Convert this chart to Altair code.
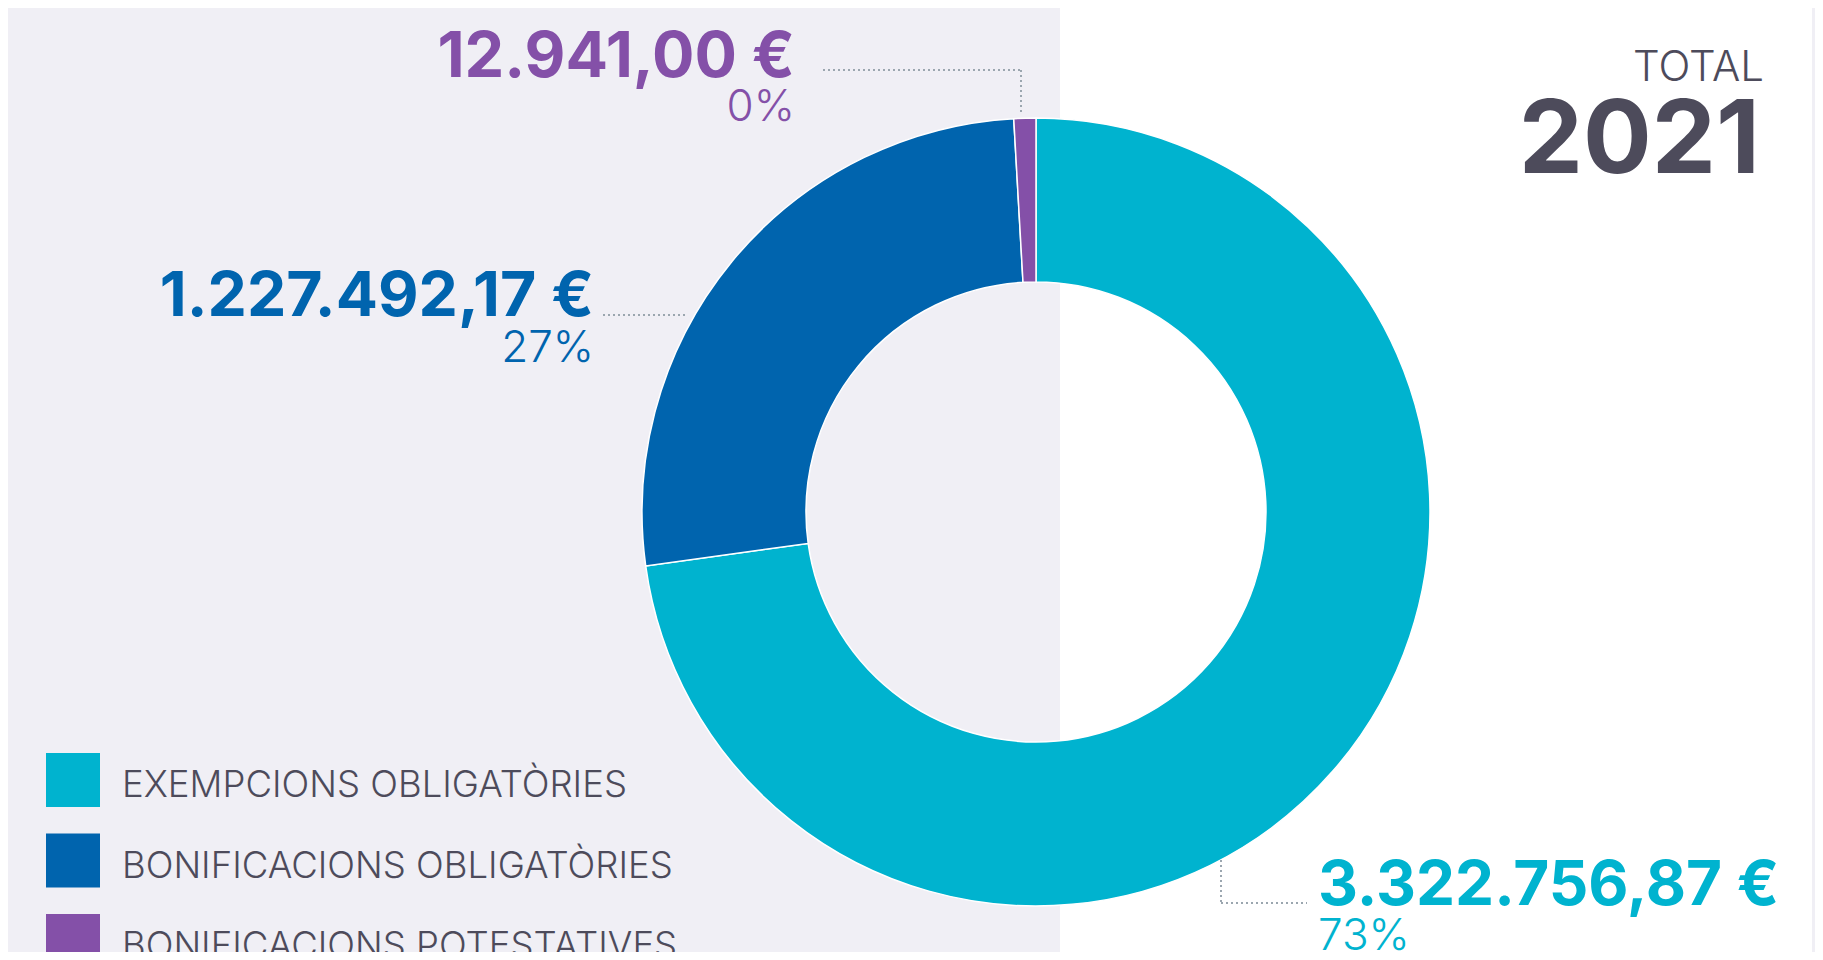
import altair as alt
import pandas as pd

# ---- data ----
categories = ["EXEMPCIONS OBLIGATÒRIES", "BONIFICACIONS OBLIGATÒRIES", "BONIFICACIONS POTESTATIVES"]
amounts = [3322756.87, 1227492.17, 12941.00]
colors = ["#00b3cf", "#0064ae", "#8450a8"]
year_label = "2021"
total_label = "TOTAL"

total = sum(amounts)
MIN_SHARE = 0.009  # smallest visible slice share (visual minimum, taken from the neighbour slice)


def euro(v):
    s = f"{v:,.2f}".replace(",", "X").replace(".", ",").replace("X", ".")
    return s + " €"


shown = list(amounts)
for i in range(1, len(shown)):
    if shown[i] < MIN_SHARE * total:
        extra = MIN_SHARE * total - shown[i]
        shown[i] += extra
        shown[i - 1] -= extra

df = pd.DataFrame({
    "cat": categories,
    "amount": amounts,
    "shown": shown,
    "idx": list(range(len(categories))),
    "label": [euro(v) for v in amounts],
    "pct": [f"{round(v / total * 100):.0f}%" for v in amounts],
})

FONT = "Inter"
TXT = "#4d4b5b"
DOT = "#9ba6af"
BG = "#f0eff5"

one = alt.Data(values=[{}])

white_band = alt.Chart(one).mark_rect(color="white").encode(
    x=alt.value(1052), x2=alt.value(1804), y=alt.value(0), y2=alt.value(944)
)

color_scale = alt.Scale(domain=categories, range=colors)

donut = alt.Chart(df).mark_arc(
    innerRadius=230, outerRadius=394, stroke="white", strokeWidth=1.5
).encode(
    theta=alt.Theta("shown:Q", stack=True),
    order=alt.Order("idx:Q"),
    color=alt.Color(
        "cat:N",
        scale=color_scale,
        legend=alt.Legend(
            orient="none", legendX=38, legendY=751, title=None,
            symbolType="M-1,-1.22H1V0.78H-1Z", symbolSize=2916, symbolStrokeWidth=0,
            symbolOpacity=1, labelFontSize=36.5, labelFont=FONT,
            labelFontWeight=300, labelColor=TXT, labelOffset=22,
            rowPadding=25.5, padding=0, labelLimit=0,
        ),
    ),
    tooltip=["cat:N", "label:N", "pct:N"],
    x=alt.value(1028),
    y=alt.value(504),
)


def value_text(i, x, y, align, size, weight):
    return alt.Chart(df).transform_filter(
        alt.datum.idx == i
    ).mark_text(
        align=align, baseline="alphabetic", font=FONT, fontSize=size,
        fontWeight=weight, color=colors[i]
    ).encode(x=alt.value(x), y=alt.value(y))


labels = [
    value_text(2, 787, 69, "right", 63, 700).encode(text="label:N"),
    value_text(2, 787, 113, "right", 44, 300).encode(text="pct:N"),
    value_text(1, 586, 308, "right", 62.5, 700).encode(text="label:N"),
    value_text(1, 586, 354, "right", 44, 300).encode(text="pct:N"),
    value_text(0, 1310, 897, "left", 62, 700).encode(text="label:N"),
    value_text(0, 1310, 942, "left", 44, 300).encode(text="pct:N"),
]


def dotted(x, x2, y, y2):
    return alt.Chart(one).mark_rule(
        color=DOT, strokeWidth=2, strokeDash=[2, 3]
    ).encode(x=alt.value(x), x2=alt.value(x2), y=alt.value(y), y2=alt.value(y2))


leaders = [
    dotted(815, 1013, 62, 62),
    dotted(1013, 1013, 62, 105),
    dotted(595, 678, 307, 307),
    dotted(1213, 1213, 852, 895),
    dotted(1213, 1299, 895, 895),
]

title_total = alt.Chart(one).mark_text(
    align="right", baseline="alphabetic", font=FONT, fontSize=42,
    fontWeight=300, color=TXT, text=total_label
).encode(x=alt.value(1756), y=alt.value(73))

title_year = alt.Chart(one).mark_text(
    align="right", baseline="alphabetic", font=FONT, fontSize=102,
    fontWeight=700, color=TXT, text=year_label
).encode(x=alt.value(1752), y=alt.value(165))

chart = alt.layer(
    white_band, donut, *leaders, *labels, title_total, title_year
).properties(
    width=1807, height=944, padding=0, autosize="none", background=BG
).configure_view(stroke=None)

chart.save("out.html", embed_options={"renderer": "svg", "actions": False})
